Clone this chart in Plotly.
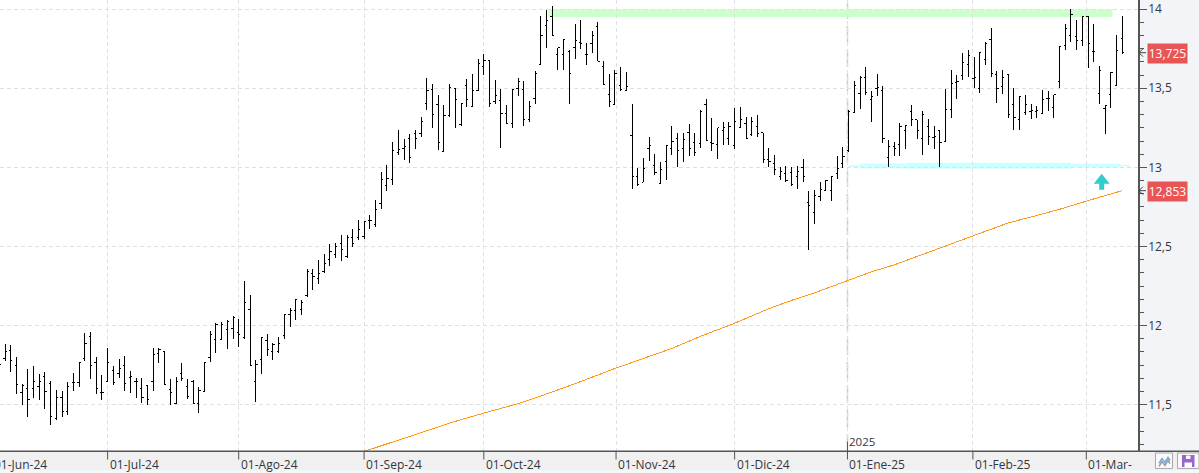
import plotly.graph_objects as go

WIDTH, HEIGHT = 1199, 473
PLOT_W, PLOT_H = 1138, 451.5

opens = [
    11.825,11.79,11.845,11.745,11.575,11.605,11.605,11.615,11.68,11.635,
    11.415,11.545,11.46,11.64,11.64,11.795,11.93,11.765,11.575,11.65,
    11.715,11.70,11.75,11.67,11.645,11.605,11.62,11.645,11.825,11.835,
    11.595,11.51,11.70,11.615,11.65,11.505,11.585,11.80,11.915,11.915,
    11.975,11.985,11.955,11.925,12.10,11.65,11.785,11.905,11.835,11.835,
    11.94,12.07,12.095,12.105,12.19,12.33,12.30,12.345,12.42,12.45,
    12.52,12.435,12.555,12.555,12.565,12.665,12.64,12.77,12.885,12.925,
    13.095,13.12,13.185,13.215,13.215,13.405,13.495,13.395,13.10,13.33,
    13.50,13.27,13.52,13.385,13.485,13.635,13.675,13.415,13.42,13.34,
    13.275,13.50,13.495,13.305,13.435,13.65,13.90,13.955,13.715,13.715,
    13.73,13.76,13.79,13.715,13.78,13.89,13.635,13.46,13.40,13.52,
    13.485,13.20,12.94,12.905,13.12,13.01,12.90,13.04,13.12,13.18,
    13.12,13.22,13.155,13.15,13.40,13.16,13.145,13.235,13.18,13.14,
    13.255,13.275,13.21,13.26,13.22,13.05,13.025,12.94,12.96,12.965,
    12.945,13.00,12.78,12.715,12.815,12.855,12.855,12.96,13.025,13.105,
    13.35,13.47,13.57,13.43,13.50,13.485,13.06,13.135,13.145,13.235,
    13.355,13.30,13.18,13.26,13.19,13.235,13.165,13.365,13.535,13.58,
    13.65,13.56,13.50,13.68,13.81,13.59,13.51,13.585,13.40,13.30,
    13.35,13.355,13.355,13.34,13.435,13.38,13.545,13.77,13.835,13.83,
    13.80,13.955,13.735,13.47,13.375,13.46,13.52,13.815,
]
highs = [
    11.85,11.885,11.88,11.80,11.63,11.725,11.745,11.695,11.705,11.65,
    11.595,11.585,11.645,11.70,11.77,11.955,11.96,11.80,11.685,11.86,
    11.745,11.79,11.81,11.715,11.67,11.67,11.625,11.86,11.86,11.835,
    11.665,11.675,11.765,11.66,11.655,11.61,11.77,11.965,12.015,12.02,
    12.035,12.06,12.04,12.285,12.195,11.78,11.93,11.945,11.89,11.93,
    12.07,12.11,12.17,12.165,12.355,12.355,12.415,12.45,12.515,12.52,
    12.57,12.57,12.61,12.67,12.66,12.70,12.795,12.97,13.015,13.16,
    13.235,13.18,13.21,13.235,13.32,13.565,13.53,13.46,13.395,13.525,
    13.50,13.41,13.56,13.59,13.685,13.715,13.68,13.555,13.495,13.395,
    13.49,13.565,13.545,13.42,13.61,13.955,13.995,14.02,13.755,13.81,
    13.74,13.905,13.93,13.785,13.86,13.92,13.675,13.59,13.615,13.635,
    13.60,13.40,12.995,13.06,13.195,13.085,13.035,13.14,13.26,13.215,
    13.215,13.275,13.215,13.365,13.435,13.315,13.25,13.29,13.29,13.375,
    13.38,13.32,13.32,13.33,13.22,13.12,13.08,13.00,13.01,13.00,
    13.01,13.055,12.85,12.86,12.91,12.92,12.945,13.075,13.13,13.365,
    13.545,13.575,13.635,13.48,13.59,13.515,13.175,13.16,13.28,13.27,
    13.395,13.30,13.355,13.305,13.26,13.235,13.495,13.615,13.585,13.725,
    13.74,13.70,13.73,13.79,13.88,13.61,13.615,13.59,13.50,13.45,
    13.46,13.40,13.39,13.49,13.48,13.46,13.765,13.905,14.00,13.93,
    13.955,13.955,13.905,13.64,13.395,13.605,13.835,13.955,
]
lows = [
    11.745,11.775,11.71,11.565,11.50,11.425,11.545,11.53,11.475,11.37,
    11.405,11.425,11.435,11.585,11.61,11.775,11.665,11.57,11.53,11.65,
    11.625,11.67,11.585,11.575,11.545,11.51,11.50,11.585,11.765,11.625,
    11.50,11.505,11.65,11.535,11.51,11.445,11.58,11.77,11.825,11.91,
    11.855,11.915,11.865,11.915,11.745,11.515,11.695,11.81,11.78,11.83,
    11.915,11.99,12.035,12.065,12.18,12.225,12.265,12.33,12.38,12.43,
    12.41,12.43,12.50,12.54,12.55,12.61,12.625,12.74,12.85,12.89,
    13.08,13.045,13.03,13.115,13.19,13.36,13.25,13.11,13.10,13.32,
    13.25,13.26,13.38,13.38,13.48,13.585,13.38,13.40,13.12,13.275,
    13.25,13.45,13.26,13.285,13.40,13.645,13.755,13.835,13.615,13.615,
    13.40,13.685,13.75,13.645,13.725,13.67,13.52,13.38,13.40,13.485,
    13.48,12.865,12.88,12.905,13.04,12.955,12.90,12.92,13.08,13.005,
    13.035,13.07,13.07,13.125,13.17,13.105,13.055,13.14,13.14,13.115,
    13.25,13.18,13.20,13.195,13.025,13.00,12.95,12.92,12.905,12.885,
    12.865,12.91,12.48,12.64,12.785,12.855,12.785,12.925,12.995,13.10,
    13.345,13.37,13.46,13.285,13.45,13.155,13.005,13.07,13.075,13.115,
    13.26,13.18,13.08,13.14,13.115,13.00,13.165,13.31,13.43,13.555,
    13.57,13.50,13.47,13.645,13.57,13.41,13.465,13.315,13.235,13.235,
    13.33,13.305,13.31,13.335,13.355,13.31,13.50,13.74,13.795,13.74,
    13.765,13.63,13.665,13.40,13.21,13.375,13.515,13.715,
]
closes = [
    11.755,11.835,11.78,11.63,11.62,11.535,11.65,11.65,11.585,11.425,
    11.545,11.455,11.615,11.64,11.77,11.89,11.745,11.605,11.575,11.765,
    11.64,11.73,11.635,11.68,11.645,11.545,11.53,11.815,11.85,11.625,
    11.575,11.65,11.665,11.55,11.51,11.59,11.77,11.945,12.01,12.005,
    12.025,12.05,11.945,12.145,11.745,11.755,11.925,11.85,11.88,11.89,
    12.07,12.095,12.165,12.145,12.34,12.31,12.33,12.39,12.47,12.50,
    12.48,12.555,12.52,12.605,12.66,12.665,12.735,12.925,12.93,13.105,
    13.115,13.135,13.06,13.18,13.29,13.485,13.335,13.16,13.33,13.505,
    13.43,13.405,13.43,13.485,13.655,13.675,13.405,13.455,13.34,13.28,
    13.49,13.54,13.305,13.385,13.595,13.835,13.93,13.835,13.755,13.81,
    13.595,13.80,13.785,13.715,13.835,13.67,13.525,13.415,13.595,13.49,
    13.51,12.945,12.89,12.99,13.14,12.965,12.985,13.14,13.165,13.105,
    13.175,13.12,13.095,13.355,13.17,13.15,13.25,13.25,13.26,13.29,
    13.305,13.185,13.29,13.215,13.05,13.04,12.985,12.975,12.915,12.89,
    12.975,12.945,12.76,12.825,12.86,12.92,12.94,12.995,13.07,13.355,
    13.52,13.57,13.475,13.45,13.505,13.18,13.135,13.12,13.26,13.265,
    13.30,13.235,13.335,13.195,13.195,13.155,13.365,13.53,13.54,13.66,
    13.71,13.57,13.725,13.78,13.595,13.50,13.57,13.335,13.315,13.45,
    13.40,13.36,13.36,13.43,13.435,13.46,13.765,13.88,13.965,13.80,
    13.955,13.78,13.73,13.61,13.39,13.60,13.74,13.725,
]
sessions = list(range(len(closes)))

# Long moving average, sampled at selected sessions
ma_sessions = [64, 69, 75, 80, 85, 91, 95, 101, 108, 113, 118, 123, 129, 135, 139,
               143, 149, 153, 157, 163, 166, 171, 177, 180, 186, 191, 197]
ma_values = [11.205, 11.265, 11.34, 11.395, 11.447, 11.507, 11.555, 11.633, 11.729,
             11.792, 11.856, 11.932, 12.015, 12.107, 12.16, 12.207, 12.285, 12.34,
             12.384, 12.463, 12.506, 12.572, 12.649, 12.677, 12.735, 12.79, 12.853]

month_ticks = [19, 42, 64, 85, 108.2, 129, 148.8, 170.8, 190.7]
month_labels = ["01-Jul-24", "01-Ago-24", "01-Sep-24", "01-Oct-24", "01-Nov-24",
                "01-Dic-24", "01-Ene-25", "01-Feb-25", "01-Mar-"]
price_ticks = [11.5, 12, 12.5, 13, 13.5, 14]
price_labels = ["11,5", "12", "12,5", "13", "13,5", "14"]

last_close_label = "13,725"
last_ma_label = "12,853"

# Resistance band
resistance = dict(start=96.3, end=195.3, top=14.0, bottom=13.95)
# Support band, drawn as overlapping strokes
support_starts = [149.1, 151.0, 159.2, 188.1, 196.6]
support_ends = [151.0, 159.2, 188.1, 196.6, 198.4]
support_tops = [13.014, 13.025, 13.029, 13.023, 13.016]
support_bottoms = [13.002, 12.995, 12.991, 12.999, 13.006]

signal_session, signal_price = 193.4, 12.858

FONT = "Open Sans, sans-serif"
TEXT = "#33373d"
AXIS = "#555555"
GRID = "#e0e0e0"
SIDE_BG = "#f3f4f7"
STRIP_BG = "#f0f0f0"


def px_x(x):
    return x / PLOT_W


def px_y(y):
    return 1 - y / PLOT_H


def rect(x0, y0, x1, y1, fill, line=None):
    return dict(type="rect", xref="paper", yref="paper", layer="above",
                x0=px_x(x0), x1=px_x(x1), y0=px_y(y0), y1=px_y(y1),
                fillcolor=fill, line=dict(color=line or fill, width=1 if line else 0))


def polyline(points, color, width=1.5):
    path = "M " + " L ".join(f"{px_x(a):.5f},{px_y(b):.5f}" for a, b in points)
    return dict(type="path", xref="paper", yref="paper", path=path,
                line=dict(color=color, width=width))


def pointer(value):
    # Small left-pointing arrow between the axis and a price flag
    head, tail = px_x(1139), px_x(1146)
    neck = px_x(1143)
    return dict(type="path", xref="paper", yref="y", ysizemode="pixel", yanchor=value,
                path=f"M {neck},4 L {head},0 L {neck},-4 M {head},0 L {tail},0",
                line=dict(color="#444444", width=1))


fig = go.Figure()
fig.add_trace(go.Ohlc(
    x=sessions, open=opens, high=highs, low=lows, close=closes,
    increasing=dict(line=dict(color="#000000", width=1)),
    decreasing=dict(line=dict(color="#000000", width=1)),
    tickwidth=0.3, hoverinfo="skip", showlegend=False,
))
fig.add_trace(go.Scatter(
    x=ma_sessions, y=ma_values, mode="lines",
    line=dict(color="#ff9a1f", width=1), hoverinfo="skip", showlegend=False,
))

shapes = [
    # Bottom strip under the plotting area
    dict(type="rect", xref="paper", yref="paper", layer="below",
         x0=0, x1=px_x(WIDTH), y0=px_y(452), y1=px_y(471),
         fillcolor=STRIP_BG, line=dict(width=0)),
    dict(type="rect", xref="paper", yref="paper", layer="below",
         x0=0, x1=px_x(WIDTH), y0=px_y(471), y1=px_y(HEIGHT),
         fillcolor="#f8f8f8", line=dict(width=0)),
    dict(type="rect", xref="x", yref="y", layer="below",
         x0=resistance["start"], x1=resistance["end"],
         y0=resistance["bottom"], y1=resistance["top"],
         fillcolor="#ccffcc", line=dict(width=0)),
    # Year separator and the taller tick above the axis
    dict(type="line", xref="x", yref="paper", x0=month_ticks[6], x1=month_ticks[6],
         y0=0, y1=1, layer="below", line=dict(color="#cccccc", width=1.5, dash="17px,7px")),
    dict(type="line", xref="x", yref="paper", x0=month_ticks[6], x1=month_ticks[6],
         y0=px_y(442), y1=0, line=dict(color=AXIS, width=1)),
    # Bottom axis rule runs the full width of the window
    dict(type="line", xref="paper", yref="paper", x0=0, x1=px_x(WIDTH),
         y0=px_y(451.7), y1=px_y(451.7), line=dict(color=AXIS, width=1.5)),
    # Upward signal arrow
    dict(type="path", xref="x", yref="y", xsizemode="pixel", ysizemode="pixel",
         xanchor=signal_session, yanchor=signal_price,
         path="M -2.5,0 L -2.5,6 L -8,6 L 0,16 L 8,6 L 2.5,6 L 2.5,0 Z",
         fillcolor="#33cccc", line=dict(width=0)),
    # Chart-type button
    rect(1155.5, 453.5, 1172.5, 469, "#fafafa", "#aaaaaa"),
    polyline([(1159, 464), (1162, 459), (1165, 463), (1168, 458), (1170, 461)], "#6fa8dc"),
    polyline([(1159, 467), (1162, 462), (1165, 466), (1168, 461), (1170, 464)], "#9a9a9a"),
    # Save button
    rect(1177.5, 453.5, 1199, 469, "#fafafa", "#aaaaaa"),
    rect(1182, 455.5, 1194.5, 467.5, "#9966cc"),
    rect(1186, 456, 1190.5, 459.5, "#ffffff"),
    rect(1184.5, 463, 1192, 467.5, "#ffffff"),
    pointer(closes[-1]),
    pointer(ma_values[-1]),
]
for tick in month_ticks:
    shapes.append(dict(type="line", xref="x", yref="paper", x0=tick, x1=tick,
                       y0=0, y1=px_y(460), line=dict(color=AXIS, width=1)))
for x0, x1, top, bottom in zip(support_starts, support_ends, support_tops, support_bottoms):
    shapes.append(dict(type="rect", xref="x", yref="y", layer="below", x0=x0, x1=x1,
                       y0=bottom, y1=top, fillcolor="#ccffff", line=dict(width=0)))

annotations = []
for tick, label in zip(month_ticks, month_labels):
    annotations.append(dict(x=tick, xref="x", y=0, yref="paper", text=label,
                            xanchor="left", yanchor="top", yshift=-3,
                            showarrow=False, font=dict(family=FONT, size=12, color=TEXT)))
# First month label starts left of the visible area
annotations.append(dict(x=px_x(-8), xref="paper", y=0, yref="paper", text="01-Jun-24",
                        xanchor="left", yanchor="top", yshift=-3, showarrow=False,
                        font=dict(family=FONT, size=12, color=TEXT)))
annotations.append(dict(x=month_ticks[6], xref="x", y=px_y(442), yref="paper", text="2025",
                        xanchor="left", yanchor="middle", showarrow=False,
                        font=dict(family=FONT, size=11.5, color=TEXT)))
for value, label in ((closes[-1], last_close_label), (ma_values[-1], last_ma_label)):
    annotations.append(dict(x=px_x(1147), xref="paper", y=value, yref="y", text=label,
                            xanchor="left", yanchor="middle", showarrow=False,
                            bgcolor="#e85555", borderpad=0, width=39, height=19,
                            align="center", valign="middle", yshift=-0.5,
                            font=dict(family=FONT, size=12, color="#ffffff")))

fig.update_layout(
    width=WIDTH, height=HEIGHT,
    margin=dict(l=0, r=WIDTH - PLOT_W, t=0, b=HEIGHT - PLOT_H, pad=0),
    paper_bgcolor=SIDE_BG, plot_bgcolor="#ffffff",
    showlegend=False, shapes=shapes, annotations=annotations,
    xaxis=dict(
        range=[0.123, 199.77], tickmode="array", tickvals=month_ticks,
        showticklabels=False, ticks="",
        showgrid=True, gridcolor=GRID, griddash="4px,3px", gridwidth=1,
        zeroline=False, showline=False, rangeslider=dict(visible=False),
    ),
    yaxis=dict(
        side="right", range=[11.2076, 14.058], tickmode="array",
        tickvals=price_ticks, ticktext=price_labels, ticklabeloverflow="allow",
        ticks="outside", ticklen=7, tickcolor=AXIS, tickwidth=1, ticklabelstandoff=-1,
        minor=dict(dtick=0.5 / 6, tick0=11, ticks="outside", ticklen=4,
                   tickcolor=AXIS, tickwidth=1, showgrid=False),
        showgrid=True, gridcolor=GRID, griddash="4px,3px", gridwidth=1,
        zeroline=False, showline=True, linecolor=AXIS, linewidth=1.5,
        tickfont=dict(family=FONT, size=12, color=TEXT),
    ),
)

# Pixel-snapped bars and average line
CRISP = """
var gd = document.getElementById('{plot_id}');
function snap() {
  gd.querySelectorAll('.ohlc path, .scatterlayer .js-line').forEach(function (p) {
    p.style.shapeRendering = 'crispEdges';
  });
}
snap();
setTimeout(snap, 50);
"""
fig.write_html("out.html", config=dict(displayModeBar=False), post_script=CRISP)
